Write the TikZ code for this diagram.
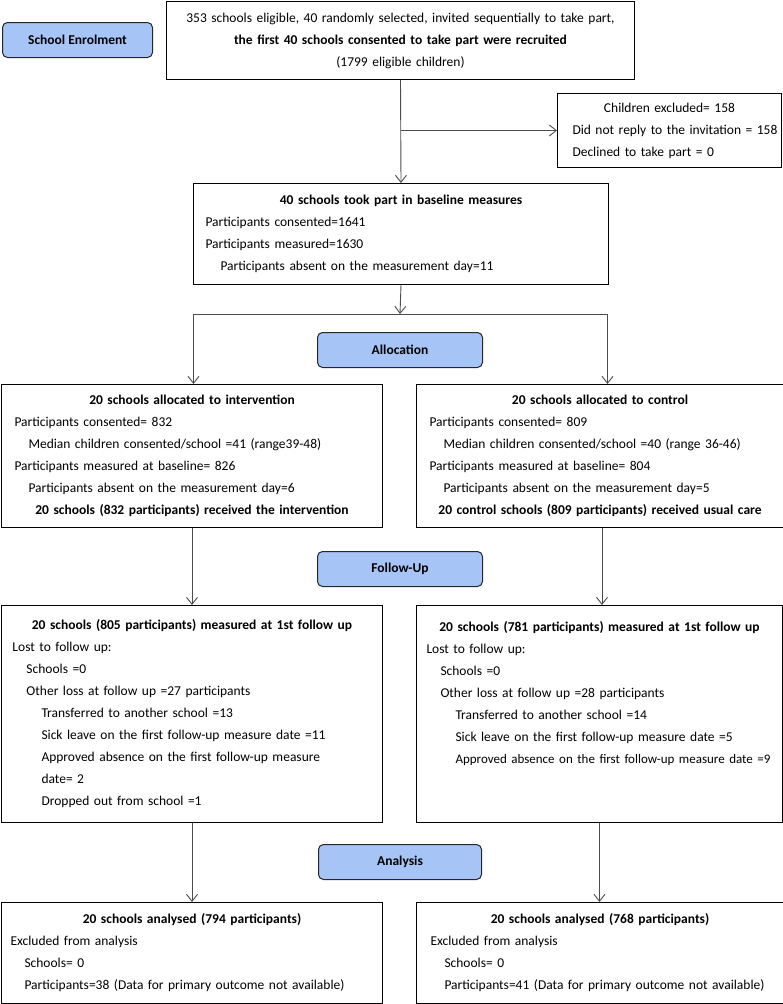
\documentclass[tikz,border=0pt]{standalone}
\usepackage{fontspec}
\setmainfont{Carlito}
\usepackage{tikz}
\usetikzlibrary{arrows.meta}

\definecolor{stagefill}{RGB}{167,196,246}

\newcommand{\boxfont}{\fontsize{13.5}{22}\selectfont}
\newcommand{\midline}[1]{\makebox[\linewidth][c]{#1}}
\newcommand{\subline}[1]{\hspace*{14pt}\mbox{#1}}
\newcommand{\subsubline}[1]{\hspace*{29pt}\mbox{#1}}

\tikzset{
   >={Straight Barb[length=7pt,width=11pt]},
   stage/.style={draw=black!85, line width=1pt, fill=stagefill,
      rounded corners=5pt, anchor=north west, inner sep=0pt,
      font=\boxfont\bfseries},
   infobox/.style={draw=black, line width=1pt, anchor=north west,
      align=left, font=\boxfont},
   flow/.style={->, draw=black!70, line width=0.9pt},
}

\begin{document}
\begin{tikzpicture}[x=1pt, y=-1pt]
\useasboundingbox (0,0) rectangle (783,1004);

% stage labels
\node[stage, minimum width=150pt, minimum height=35pt] (enrol) at (2,22) {School Enrolment};
\node[stage, minimum width=165pt, minimum height=35pt] (alloc) at (317,332) {Allocation};
\node[stage, minimum width=165pt, minimum height=35pt] (followup) at (317,551) {Follow-Up};
\node[stage, minimum width=163pt, minimum height=35pt] (analysis) at (318,844) {Analysis};

% enrolment
\node[infobox, align=center, minimum width=468pt, minimum height=78pt,
      text width=448pt, inner xsep=10pt] (top) at (166,1)
   {\mbox{353 schools eligible, 40 randomly selected, invited sequentially to take part,}\\
    \textbf{the first 40 schools consented to take part were recruited}\\
    (1799 eligible children)};
\node[infobox, minimum width=224pt, minimum height=74pt,
      text width=194pt, inner xsep=15pt] (excl) at (557,93)
   {\midline{Children excluded= 158}\\
    \mbox{Did not reply to the invitation = 158}\\
    Declined to take part = 0};
\node[infobox, minimum width=415pt, minimum height=101pt,
      text width=391pt, inner xsep=12pt] (base) at (193,183)
   {\midline{\bfseries 40 schools took part in baseline measures}\\
    Participants consented=1641\\
    Participants measured=1630\\
    \hspace*{15pt}\mbox{Participants absent on the measurement day=11}};

% allocation
\node[infobox, minimum width=381pt, minimum height=143pt,
      text width=355pt, inner xsep=13pt] (int) at (1,384)
   {\midline{\bfseries 20 schools allocated to intervention}\\
    Participants consented= 832\\
    \subline{Median children consented/school =41 (range39-48)}\\
    Participants measured at baseline= 826\\
    \subline{Participants absent on the measurement day=6}\\
    \midline{\bfseries 20 schools (832 participants) received the intervention}};
\node[infobox, minimum width=367pt, minimum height=143pt,
      text width=341pt, inner xsep=13pt] (ctl) at (416,384)
   {\midline{\bfseries 20 schools allocated to control}\\
    Participants consented= 809\\
    \subline{Median children consented/school =40 (range 36-46)}\\
    Participants measured at baseline= 804\\
    \subline{Participants absent on the measurement day=5}\\
    \midline{\bfseries 20 control schools (809 participants) received usual care}};

% follow-up
\node[infobox, minimum width=381pt, minimum height=217pt,
      text width=359pt, inner xsep=11pt] (fuint) at (1,605)
   {\midline{\bfseries 20 schools (805 participants) measured at 1st follow up}\\
    Lost to follow up:\\
    \subline{Schools =0}\\
    \subline{Other loss at follow up =27 participants}\\
    \subsubline{Transferred to another school =13}\\
    \subsubline{Sick leave on the first follow-up measure date =11}\\
    \subsubline{Approved absence on the first follow-up measure}\\
    \subsubline{date= 2}\\
    \subsubline{Dropped out from school =1}};
\node[infobox, minimum width=366pt, minimum height=217pt,
      text width=346pt, inner xsep=10pt] (fuctl) at (416,605)
   {\midline{\bfseries 20 schools (781 participants) measured at 1st follow up}\\
    Lost to follow up:\\
    \subline{Schools =0}\\
    \subline{Other loss at follow up =28 participants}\\
    \subsubline{Transferred to another school =14}\\
    \subsubline{Sick leave on the first follow-up measure date =5}\\
    \subsubline{\fontsize{13}{22}\selectfont Approved absence on the first follow-up measure date =9}\\
    \mbox{}\\
    \mbox{}};

% analysis
\node[infobox, minimum width=381pt, minimum height=101pt,
      text width=363pt, inner xsep=9pt] (anint) at (1,902)
   {\midline{\bfseries 20 schools analysed (794 participants)}\\
    Excluded from analysis\\
    \subline{Schools= 0}\\
    \subline{Participants=38 (Data for primary outcome not available)}};
\node[infobox, minimum width=367pt, minimum height=101pt,
      text width=339pt, inner xsep=14pt] (anctl) at (416,902)
   {\midline{\bfseries 20 schools analysed (768 participants)}\\
    Excluded from analysis\\
    \subline{Schools= 0}\\
    \subline{Participants=41 (Data for primary outcome not available)}};

% connectors
\coordinate (split) at (400,314);
\draw[flow] (top.south) -- (base.north);
\draw[flow] (top.south |- excl.west) -- (excl.west);
\draw[flow] (base.south) -- (split);
\draw[flow] (split) -| ([xshift=1.5pt]int.north);
\draw[flow] (split) -| ([xshift=7.5pt]ctl.north);
\draw[flow] (int.south) -- (fuint.north);
\draw[flow] ([xshift=2pt]ctl.south) -- ([xshift=2.5pt]fuctl.north);
\draw[flow] (fuint.south) -- (anint.north);
\draw[flow] (fuctl.south) -- ([xshift=-0.5pt]anctl.north);
\end{tikzpicture}
\end{document}
